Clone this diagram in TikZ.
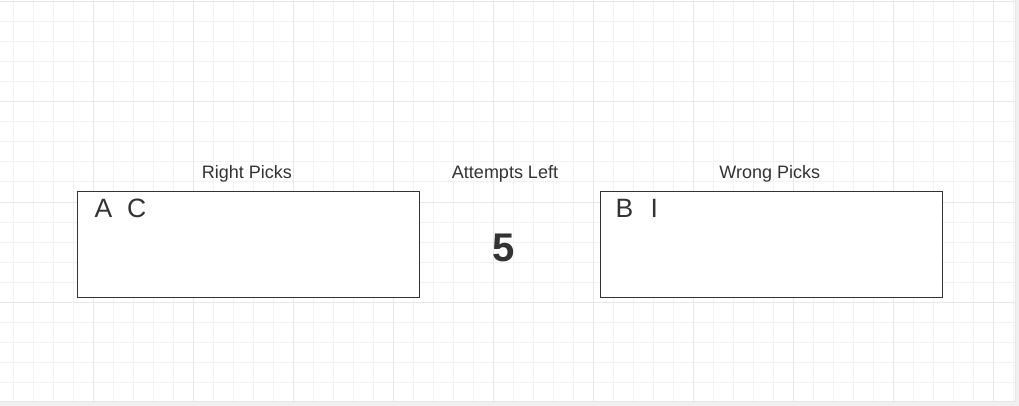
\documentclass[tikz,border=0pt]{standalone}
\usepackage{fontspec}
\setmainfont{Liberation Sans}
\usetikzlibrary{positioning}
\definecolor{inkgray}{HTML}{333333}
\definecolor{gridminor}{HTML}{F2F2F2}
\definecolor{gridmajor}{HTML}{E7E7E7}
\definecolor{paperedge}{HTML}{F0F0F0}
\tikzset{
  pickbox/.style={draw=inkgray, line width=1pt, minimum width=342pt, minimum height=106pt, inner sep=0pt},
  headtext/.style={text=inkgray, font=\fontsize{18}{20}\selectfont, inner sep=0pt},
  picktext/.style={text=inkgray, font=\fontsize{26.5}{28}\selectfont, inner sep=0pt, anchor=base west},
  counttext/.style={text=inkgray, font=\fontsize{40}{44}\selectfont\bfseries, inner sep=0pt, anchor=base}
}

\begin{document}
\begin{tikzpicture}[x=1pt,y=-1pt]
  \useasboundingbox (0,0) rectangle (1019,406);
  % Paper and grid
  \fill[paperedge] (0,0) rectangle (1019,406);
  \fill[white] (0,0) rectangle (1015.5,401.5);
  \foreach \x in {13,33,...,1013} \draw[gridminor, line width=1pt] (\x,0) -- (\x,401.5);
  \foreach \y in {22,42,...,382} \draw[gridminor, line width=1pt] (0,\y) -- (1015.5,\y);
  \foreach \x in {93,193,...,993} \draw[gridmajor, line width=1pt] (\x,0) -- (\x,401.5);
  \foreach \y in {2,102,...,302} \draw[gridmajor, line width=1pt] (0,\y) -- (1015.5,\y);
  \draw[gridmajor, line width=1pt] (0,401.5) -- (1015.5,401.5) -- (1015.5,0);
  % Boxes
  \node[pickbox, fill=white] (right) at (248.3,244.2) {};
  \node[pickbox, fill=white] (wrong) at (771.3,244.2) {};
  % Headings
  \node[headtext, above=12pt of right.north, anchor=base, xshift=-1.5pt] (rightlabel) {Right Picks};
  \node[headtext, above=12pt of wrong.north, anchor=base, xshift=-1.5pt] (wronglabel) {Wrong Picks};
  \node[headtext, anchor=base] (attemptslabel) at (505,178.5) {Attempts Left};
  \node[counttext] (attempts) at (504,261) {5};
  % Picks
  \node[picktext] (rightpicks) at ([xshift=17.5pt,yshift=-27pt]right.north west) {A\hspace{15pt}C};
  \node[picktext] (wrongpicks) at ([xshift=15.5pt,yshift=-27pt]wrong.north west) {B\hspace{17.5pt}I};
\end{tikzpicture}
\end{document}
